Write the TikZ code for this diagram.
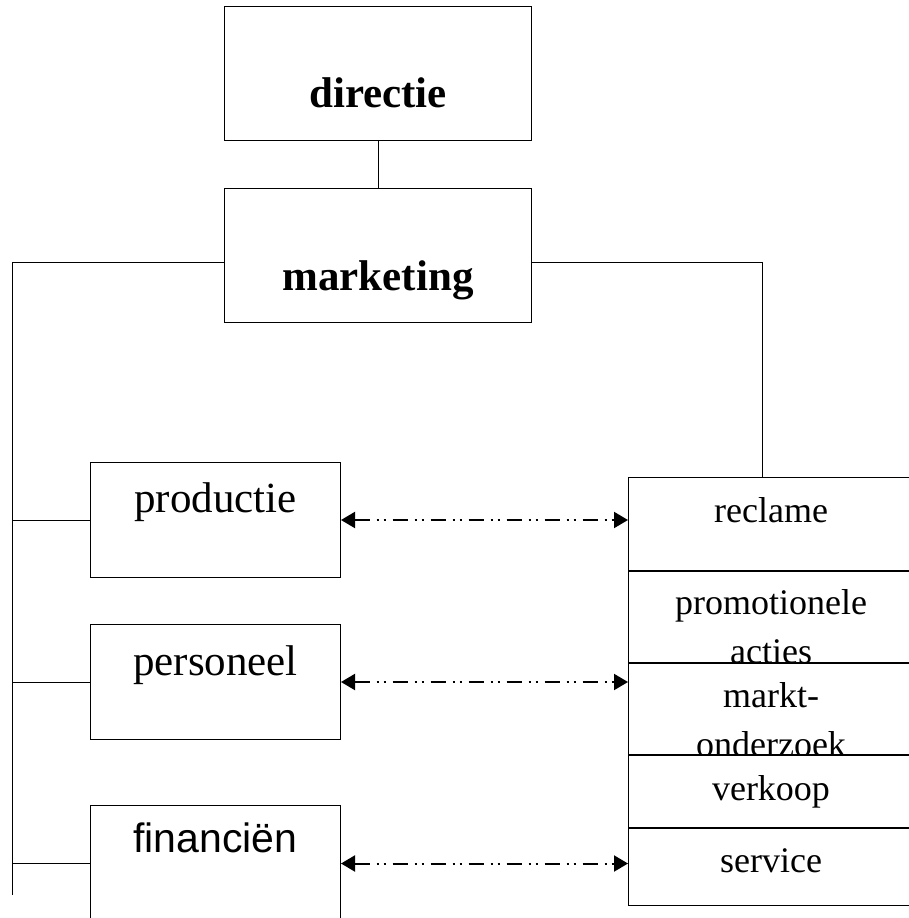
\documentclass[tikz,border=0pt]{standalone}
\usepackage{fontspec}
\setmainfont{Liberation Serif}
\newfontfamily\finfont{Liberation Sans}
\usetikzlibrary{arrows.meta,positioning}
\newcommand\headfont{\fontsize{43}{45}\selectfont\bfseries}
\newcommand\deptfont{\fontsize{43}{45}\selectfont}
\newcommand\taskfont{\fontsize{36}{38}\selectfont}
\tikzset{
  box/.style={draw, fill=white, line width=1pt, inner sep=0pt, anchor=north west},
  drop/.style={anchor=base, inner sep=0pt, yshift=-#1},
  link/.style={line width=1pt},
  flow/.style={line width=2pt, dash pattern=on 15pt off 7pt on 2pt off 5pt on 2pt off 7pt,
    {Triangle[length=14pt,width=16pt]}-{Triangle[length=14pt,width=16pt]}},
}

\begin{document}
\begin{tikzpicture}[x=1pt,y=-1pt]
      \useasboundingbox (0,0) rectangle (909,918);
      % top
      \node[box, minimum width=307pt, minimum height=134pt,
        label={[drop=101pt,font=\headfont]north:directie}] (directie) at (224,6) {};
      \node[box, minimum width=307pt, minimum height=134pt,
        label={[drop=102pt,font=\headfont]north:marketing}] (marketing) at (224,188) {};
      % staff
      \node[box, minimum width=250pt, minimum height=115pt,
        label={[drop=50pt,font=\deptfont]north:productie}] (productie) at (90,462) {};
      \node[box, minimum width=250pt, minimum height=115pt,
        label={[drop=51pt,font=\deptfont]north:personeel}] (personeel) at (90,624) {};
      \node[box, minimum width=250pt, minimum height=116pt,
        label={[drop=47pt,font=\finfont\fontsize{41}{43}\selectfont]north:financiën}] (financien) at (90,805) {};
      % marketing tasks
      \node[box, minimum width=285pt, minimum height=93pt,
        label={[drop=45pt,font=\taskfont]north:reclame}] (reclame) at (628,477) {};
      \node[box, minimum width=285pt, minimum height=91pt,
        label={[drop=43pt,font=\taskfont]north:promotionele},
        label={[drop=92pt,font=\taskfont]north:acties}] (promo) at (reclame.south west) {};
      \node[box, minimum width=285pt, minimum height=91pt,
        label={[drop=44pt,font=\taskfont]north:markt-},
        label={[drop=93pt,font=\taskfont]north:onderzoek}] (markt) at (promo.south west) {};
      \node[box, minimum width=285pt, minimum height=72pt,
        label={[drop=45pt,font=\taskfont]north:verkoop}] (verkoop) at (markt.south west) {};
      \node[box, minimum width=285pt, minimum height=77pt,
        label={[drop=44pt,font=\taskfont]north:service}] (service) at (verkoop.south west) {};
      % lines
      \coordinate (spine) at (12,262);
      \coordinate (spineend) at (12,895);
      \draw[link] (directie.south) -- (marketing.north);
      \draw[link] (spine -| marketing.west) -- (spine) -- (spineend);
      \draw[link] (spine -| marketing.east) -| ([xshift=-8.5pt]reclame.north);
      \foreach \n in {productie,personeel,financien}
        \draw[link] (\n.west) -- (\n.west -| spine);
      \foreach \a/\b in {productie/reclame,personeel/markt,financien/service}
        \draw[flow] (\a.east) -- (\a.east -| \b.west);
\end{tikzpicture}
\end{document}
